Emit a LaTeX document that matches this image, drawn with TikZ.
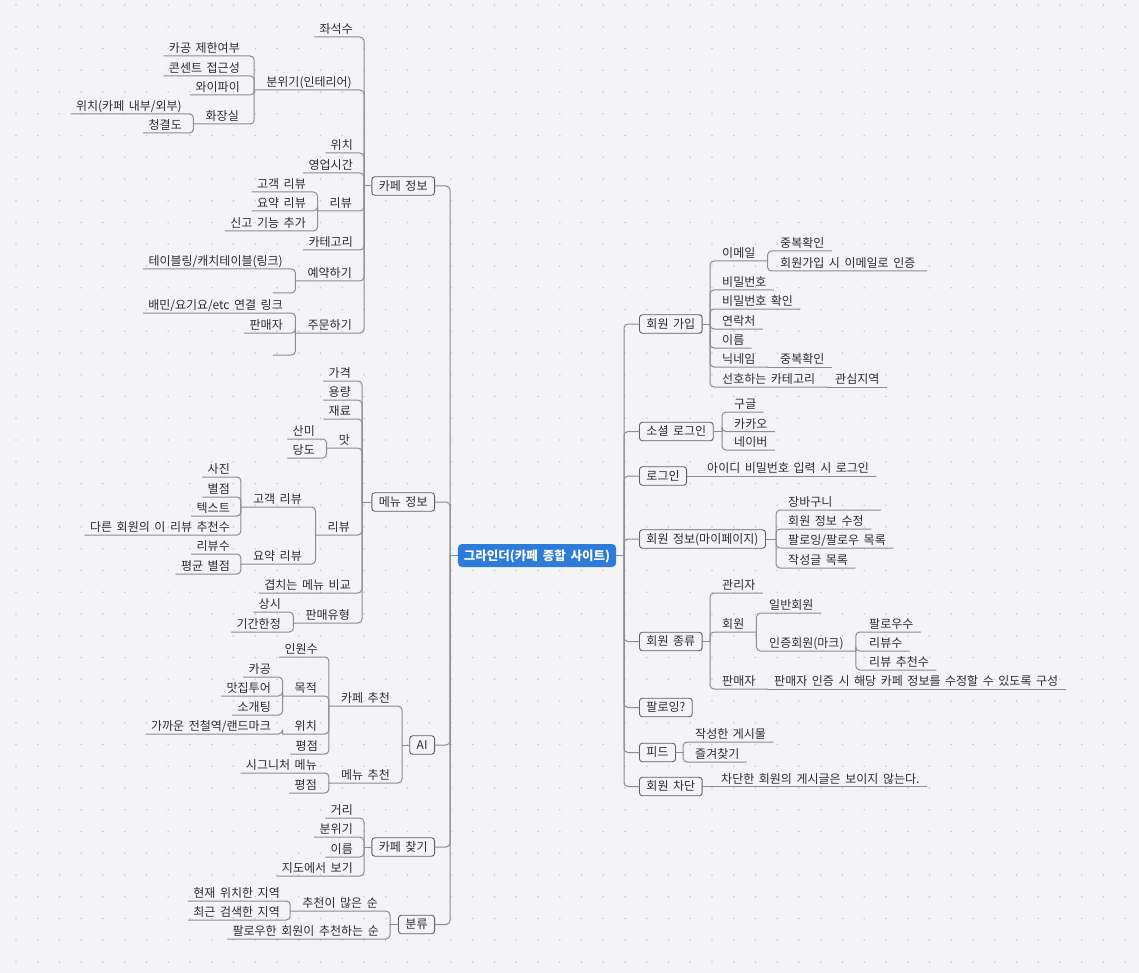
\documentclass[tikz,border=0pt]{standalone}
\usepackage{fontspec}
\setmainfont[WordSpace=1.7]{Noto Sans CJK KR}

\definecolor{bgc}{RGB}{244,244,246}
\definecolor{dotc}{RGB}{200,200,206}
\definecolor{linec}{RGB}{140,140,145}
\definecolor{boxc}{RGB}{95,95,100}
\definecolor{txtc}{RGB}{45,45,48}
\definecolor{rootc}{RGB}{45,124,217}

\tikzset{
  topic/.style={font=\fontsize{12}{14}\selectfont, text=txtc, inner ysep=0pt, text height=9pt, text depth=3.1pt},
  lleaf/.style={topic, inner xsep=5pt, anchor=south east},
  lpar/.style={topic, inner xsep=12pt, anchor=south east},
  rleaf/.style={topic, inner xsep=7pt, anchor=south west},
  rpar/.style={topic, inner xsep=12pt, anchor=south west},
  branch/.style={draw=boxc, line width=0.9pt, rounded corners=3pt, fill=bgc, text=txtc,
    font=\fontsize{12}{14}\selectfont, inner xsep=7pt, inner ysep=0pt,
    minimum height=18.5pt, text height=9.4pt, text depth=0.6pt},
  rootbox/.style={fill=rootc, rounded corners=4pt, text=white, font=\bfseries\fontsize{12.5}{15}\selectfont,
    inner xsep=6pt, inner ysep=0pt, minimum height=23pt, text height=10pt, text depth=0.8pt},
  conn/.style={draw=linec, line width=1pt, rounded corners=4pt},
}

\begin{document}
\begin{tikzpicture}[x=1pt,y=-1pt,line cap=round,line join=round]
\fill[bgc] (0,0) rectangle (1139,973);
\useasboundingbox (0,0) rectangle (1139,973);
\foreach \i in {0,...,51}{
  \foreach \j in {0,...,44}{
    \fill[dotc] ({16+\i*21.75},{5+\j*21.75}) circle (0.9pt);
  }
}

% root
\node[rootbox] (root) at (537,555.5) {그라인더(카페 종합 사이트)};
\coordinate (ls) at (450,555.5);
\coordinate (rs) at (624,555.5);
\draw[conn] (root.west) -- (ls);
\draw[conn] (root.east) -- (rs);

% left branches
\node[branch, anchor=east] (cafeinfo) at (435,186) {카페 정보};
\node[branch, anchor=east] (menuinfo) at (435,502) {메뉴 정보};
\node[branch, anchor=east] (ai) at (435,745) {AI};
\node[branch, anchor=east] (cafefind) at (435,847) {카페 찾기};
\node[branch, anchor=east] (sorting) at (435,924.5) {분류};
\foreach \b in {cafeinfo,menuinfo,ai,cafefind,sorting}
  \draw[conn] (ls) |- (\b.east);
\coordinate (cafeinfo-s) at (364,186);
\coordinate (menuinfo-s) at (362,502);
\coordinate (ai-s) at (402,745);
\coordinate (cafefind-s) at (364,847);
\coordinate (sorting-s) at (390,924.5);
\foreach \b in {cafeinfo,menuinfo,ai,cafefind,sorting}
  \draw[conn] (\b.west) -- (\b-s);

% cafe info
\node[lleaf] (seats) at (358,37) {좌석수};
\node[lpar] (mood) at (364,90) {분위기(인테리어)};
\node[lleaf] (studyok) at (245,56) {카공 제한여부};
\node[lleaf] (outlet) at (245,76) {콘센트 접근성};
\node[lleaf] (wifi) at (245,95) {와이파이};
\node[lpar] (toilet) at (251,124) {화장실};
\node[lleaf] (toiletloc) at (187,114) {위치(카페 내부/외부)};
\node[lleaf] (toiletclean) at (187,133) {청결도};
\node[lleaf] (place) at (358,153) {위치};
\node[lleaf] (hours) at (358,173) {영업시간};
\node[lpar] (review) at (364,211) {리뷰};
\node[lleaf] (custrev) at (311,192) {고객 리뷰};
\node[lleaf] (sumrev) at (311,211) {요약 리뷰};
\node[lleaf] (report) at (311,231) {신고 기능 추가};
\node[lleaf] (category) at (358,250) {카테고리};
\node[lpar] (reserve) at (364,281) {예약하기};
\node[lleaf] (tabling) at (288,269) {테이블링/캐치테이블(링크)};
\coordinate (reserveblank) at (273,293);
\node[lpar] (order) at (364,333) {주문하기};
\node[lleaf] (delivery) at (288,313) {배민/요기요/etc 연결 링크};
\node[lleaf] (orderseller) at (288,333) {판매자};
\coordinate (orderblank) at (273,355);
\foreach \c in {seats,mood,place,hours,review,category,reserve,order}
  \draw[conn] (cafeinfo-s) |- (\c.south west);
\foreach \c in {studyok,outlet,wifi,toilet}
  \draw[conn] (mood.south west) |- (\c.south west);
\foreach \c in {toiletloc,toiletclean}
  \draw[conn] (toilet.south west) |- (\c.south west);
\foreach \c in {custrev,sumrev,report}
  \draw[conn] (review.south west) |- (\c.south west);
\draw[conn] (reserve.south west) |- (tabling.south west);
\draw[conn] (reserve.south west) |- (reserveblank);
\foreach \c in {delivery,orderseller}
  \draw[conn] (order.south west) |- (\c.south west);
\draw[conn] (order.south west) |- (orderblank);

% menu info
\node[lleaf] (price) at (356,381) {가격};
\node[lleaf] (volume) at (356,400) {용량};
\node[lleaf] (ingred) at (356,419) {재료};
\node[lpar] (taste) at (362,448) {맛};
\node[lleaf] (acidity) at (320,439) {산미};
\node[lleaf] (sweet) at (320,458) {당도};
\node[lpar] (mreview) at (362,535) {리뷰};
\node[lpar] (mcustrev) at (314,507) {고객 리뷰};
\node[lleaf] (photo) at (235,477) {사진};
\node[lleaf] (stars) at (235,497) {별점};
\node[lleaf] (revtext) at (235,516) {텍스트};
\node[lleaf] (revlike) at (235,535) {다른 회원의 이 리뷰 추천수};
\node[lpar] (msumrev) at (314,564) {요약 리뷰};
\node[lleaf] (revcount) at (235,554) {리뷰수};
\node[lleaf] (avgstars) at (235,574) {평균 별점};
\node[lleaf] (compare) at (356,593) {겹치는 메뉴 비교};
\node[lpar] (saletype) at (362,623) {판매유형};
\node[lleaf] (always) at (286,612) {상시};
\node[lleaf] (limited) at (286,632) {기간한정};
\foreach \c in {price,volume,ingred,taste,mreview,compare,saletype}
  \draw[conn] (menuinfo-s) |- (\c.south west);
\foreach \c in {acidity,sweet}
  \draw[conn] (taste.south west) |- (\c.south west);
\foreach \c in {mcustrev,msumrev}
  \draw[conn] (mreview.south west) |- (\c.south west);
\foreach \c in {photo,stars,revtext,revlike}
  \draw[conn] (mcustrev.south west) |- (\c.south west);
\foreach \c in {revcount,avgstars}
  \draw[conn] (msumrev.south west) |- (\c.south west);
\foreach \c in {always,limited}
  \draw[conn] (saletype.south west) |- (\c.south west);

% AI
\node[lpar] (cafereco) at (402,706) {카페 추천};
\node[lleaf] (people) at (323,657) {인원수};
\node[lpar] (purpose) at (329,696) {목적};
\node[lleaf] (study) at (276,677) {카공};
\node[lleaf] (foodtour) at (276,696) {맛집투어};
\node[lleaf] (blinddate) at (276,715) {소개팅};
\node[lpar] (recoloc) at (329,734) {위치};
\node[lleaf] (station) at (276,734) {가까운 전철역/랜드마크};
\node[lleaf] (rating) at (323,754) {평점};
\node[lpar] (menureco) at (402,783) {메뉴 추천};
\node[lleaf] (signature) at (322,773) {시그니처 메뉴};
\node[lleaf] (mrating) at (322,793) {평점};
\foreach \c in {cafereco,menureco}
  \draw[conn] (ai-s) |- (\c.south west);
\foreach \c in {people,purpose,recoloc,rating}
  \draw[conn] (cafereco.south west) |- (\c.south west);
\foreach \c in {study,foodtour,blinddate}
  \draw[conn] (purpose.south west) |- (\c.south west);
\draw[conn] (recoloc.south west) |- (station.south west);
\foreach \c in {signature,mrating}
  \draw[conn] (menureco.south west) |- (\c.south west);

% cafe search
\node[lleaf] (dist) at (358,818) {거리};
\node[lleaf] (atmos) at (358,837) {분위기};
\node[lleaf] (cname) at (358,857) {이름};
\node[lleaf] (onmap) at (358,876) {지도에서 보기};
\foreach \c in {dist,atmos,cname,onmap}
  \draw[conn] (cafefind-s) |- (\c.south west);

% sorting
\node[lpar] (mostreco) at (390,911) {추천이 많은 순};
\node[lleaf] (curarea) at (285,901) {현재 위치한 지역};
\node[lleaf] (recentarea) at (285,920) {최근 검색한 지역};
\node[lleaf] (followreco) at (384,939) {팔로우한 회원이 추천하는 순};
\foreach \c in {mostreco,followreco}
  \draw[conn] (sorting-s) |- (\c.south west);
\foreach \c in {curarea,recentarea}
  \draw[conn] (mostreco.south west) |- (\c.south west);

% right branches
\node[branch, anchor=west] (signup) at (639,324) {회원 가입};
\node[branch, anchor=west] (social) at (639,431.5) {소셜 로그인};
\node[branch, anchor=west] (login) at (639,476) {로그인};
\node[branch, anchor=west] (myinfo) at (639,539) {회원 정보(마이페이지)};
\node[branch, anchor=west] (memtype) at (639,641.5) {회원 종류};
\node[branch, anchor=west] (following) at (639,707.5) {팔로잉?};
\node[branch, anchor=west] (feed) at (639,752.5) {피드};
\node[branch, anchor=west] (block) at (639,786.5) {회원 차단};
\foreach \b in {signup,social,login,myinfo,memtype,following,feed,block}
  \draw[conn] (rs) |- (\b.west);
\coordinate (signup-s) at (710,324);
\coordinate (social-s) at (722,431.5);
\coordinate (myinfo-s) at (776,539);
\coordinate (memtype-s) at (710,641.5);
\coordinate (feed-s) at (683,752.5);
\foreach \b in {signup,social,myinfo,memtype,feed}
  \draw[conn] (\b.east) -- (\b-s);

% sign up
\node[rpar] (email) at (710,261) {이메일};
\node[rleaf] (emaildup) at (773,251) {중복확인};
\node[rleaf] (emailauth) at (773,271) {회원가입 시 이메일로 인증};
\node[rleaf] (pw) at (715,290) {비밀번호};
\node[rleaf] (pwcheck) at (715,309) {비밀번호 확인};
\node[rleaf] (phone) at (715,329) {연락처};
\node[rleaf] (uname) at (715,348) {이름};
\node[rpar] (nick) at (710,367) {닉네임};
\node[rleaf] (nickdup) at (773,367) {중복확인};
\node[rpar] (prefcat) at (710,387) {선호하는 카테고리};
\node[rleaf] (interest) at (828,387) {관심지역};
\foreach \c in {email,pw,pwcheck,phone,uname,nick,prefcat}
  \draw[conn] (signup-s) |- (\c.south east);
\draw[conn] (email.south east) |- ([xshift=4pt]emailauth.south east);
\draw[conn] (email.south east) |- (emaildup.south east);
\draw[conn] (nick.south east) -- (nickdup.south east);
\draw[conn] (prefcat.south east) -- (interest.south east);

% social login, login
\node[rleaf] (google) at (727,412) {구글};
\node[rleaf] (kakao) at (727,431.5) {카카오};
\node[rleaf] (naver) at (727,450) {네이버};
\foreach \c in {google,kakao,naver}
  \draw[conn] (social-s) |- (\c.south east);
\node[rleaf] (idlogin) at (700,476) {아이디 비밀번호 입력 시 로그인};
\draw[conn] (login.east) -- (idlogin.south east);

% my page
\node[rleaf] (cart) at (781,510) {장바구니};
\node[rleaf] (editinfo) at (781,529) {회원 정보 수정};
\node[rleaf] (followlist) at (781,548) {팔로잉/팔로우 목록};
\node[rleaf] (mypostlist) at (781,568) {작성글 목록};
\draw[conn] (myinfo-s) |- ([xshift=41pt]cart.south east);
\foreach \c in {editinfo,followlist,mypostlist}
  \draw[conn] (myinfo-s) |- (\c.south east);

% member types
\node[rleaf] (admin) at (715,593) {관리자};
\node[rpar] (member) at (710,632) {회원};
\node[rleaf] (normal) at (762,613) {일반회원};
\node[rpar] (verified) at (757,651) {인증회원(마크)};
\node[rleaf] (followers) at (862,632) {팔로우수};
\node[rleaf] (revnum) at (862,651) {리뷰수};
\node[rleaf] (revlikes) at (862,670) {리뷰 추천수};
\node[rpar] (seller) at (710,689) {판매자};
\node[rleaf] (sellerauth) at (767,689) {판매자 인증 시 해당 카페 정보를 수정할 수 있도록 구성};
\foreach \c in {admin,member,seller}
  \draw[conn] (memtype-s) |- (\c.south east);
\foreach \c in {normal,verified}
  \draw[conn] (member.south east) |- (\c.south east);
\foreach \c in {followers,revnum,revlikes}
  \draw[conn] (verified.south east) |- (\c.south east);
\draw[conn] (seller.south east) -- (sellerauth.south east);

% feed, block
\node[rleaf] (myposts) at (688,742) {작성한 게시물};
\node[rleaf] (favs) at (688,762) {즐겨찾기};
\foreach \c in {myposts,favs}
  \draw[conn] (feed-s) |- (\c.south east);
\node[rleaf] (blockmsg) at (714,786.5) {차단한 회원의 게시글은 보이지 않는다.};
\draw[conn] (block.east) -- (blockmsg.south east);
\end{tikzpicture}
\end{document}
